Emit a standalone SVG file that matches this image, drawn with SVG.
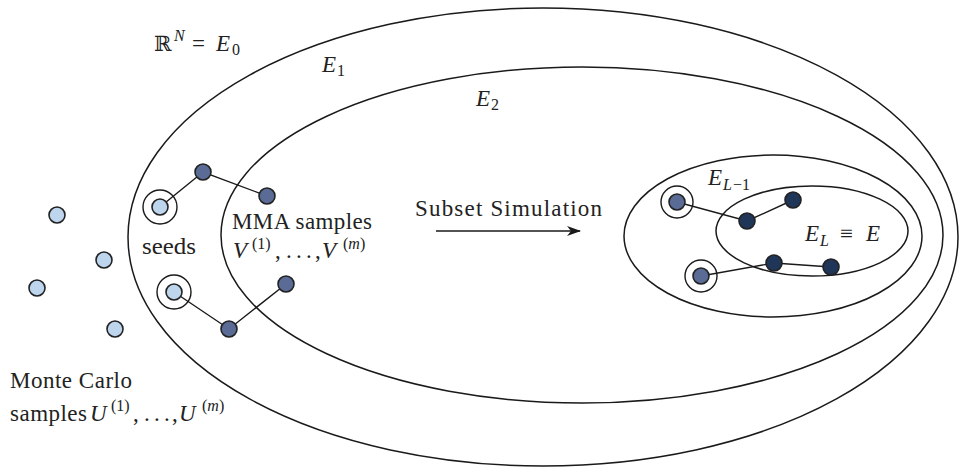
<svg xmlns="http://www.w3.org/2000/svg" width="959" height="468" viewBox="0 0 959 468">
<defs>
<style>
.set{fill:none;stroke:#1a1a1a;stroke-width:1.5}
.ln{stroke:#1a1a1a;stroke-width:1.4;fill:none}
.mc{fill:#bdd6ee;stroke:#222;stroke-width:1.6}
.mm{fill:#5a6b96;stroke:#222;stroke-width:1.6}
.nv{fill:#1f3659;stroke:#222;stroke-width:1.6}
.ring{fill:none;stroke:#1a1a1a;stroke-width:1.4}
.it{font-style:italic}
.sub{font-size:16px}
</style>
<marker id="ah" viewBox="0 0 14 10" refX="13" refY="5" markerWidth="14" markerHeight="10" markerUnits="userSpaceOnUse" orient="auto">
<path d="M0,0 L14,5 L0,10 L4,5 Z" fill="#1a1a1a"/>
</marker>
</defs>
<rect width="959" height="468" fill="#fff"/>
<g id="sets">
<ellipse id="E1" class="set" cx="543" cy="237" rx="415" ry="229"/>
<ellipse id="E2" class="set" cx="582" cy="235" rx="361" ry="168"/>
<ellipse id="ELm1" class="set" cx="773" cy="236" rx="149" ry="81"/>
<ellipse id="EL" class="set" cx="812" cy="231" rx="96" ry="45"/>
</g>
<g id="connectors">
<polyline class="ln" points="160,207 203,172 267,196"/>
<polyline class="ln" points="174,292 229,329 286,284"/>
<polyline class="ln" points="677,202 747,221 793,200"/>
<polyline class="ln" points="701,276 774,263 831,267"/>
<line id="arrow" class="ln" x1="436" y1="231" x2="580" y2="231" marker-end="url(#ah)"/>
</g>
<g id="mc-samples">
<circle class="mc" cx="57" cy="215" r="8"/>
<circle class="mc" cx="104" cy="260" r="8"/>
<circle class="mc" cx="37" cy="288" r="8"/>
<circle class="mc" cx="115" cy="329" r="8"/>
</g>
<g id="seed1"><circle class="ring" cx="160" cy="207" r="17"/><circle class="mc" cx="160" cy="207" r="8"/></g>
<g id="seed2"><circle class="ring" cx="174" cy="292" r="17"/><circle class="mc" cx="174" cy="292" r="8"/></g>
<g id="mma-nodes">
<circle class="mm" cx="203" cy="172" r="8"/>
<circle class="mm" cx="267" cy="196" r="8"/>
<circle class="mm" cx="229" cy="329" r="8"/>
<circle class="mm" cx="286" cy="284" r="8"/>
</g>
<g id="seed3"><circle class="ring" cx="677" cy="202" r="16"/><circle class="mm" cx="677" cy="202" r="8"/></g>
<g id="seed4"><circle class="ring" cx="701" cy="276" r="16"/><circle class="mm" cx="701" cy="276" r="8"/></g>
<g id="final-nodes">
<circle class="nv" cx="747" cy="221" r="8"/>
<circle class="nv" cx="793" cy="200" r="8"/>
<circle class="nv" cx="774" cy="263" r="8"/>
<circle class="nv" cx="831" cy="267" r="8"/>
</g>
<g id="labels" font-family="Liberation Serif, DejaVu Serif, serif" font-size="23" fill="#222">
<text x="154" y="51"><tspan font-family="DejaVu Serif, serif" font-size="21">ℝ</tspan><tspan class="it sub" x="174" y="41">N</tspan><tspan x="192" y="51">=</tspan><tspan class="it" x="216" y="51">E</tspan><tspan class="sub" x="232" y="55">0</tspan></text>
<text x="322" y="72"><tspan class="it">E</tspan><tspan class="sub" x="337" y="76">1</tspan></text>
<text x="476" y="106"><tspan class="it">E</tspan><tspan class="sub" x="491" y="110">2</tspan></text>
<text x="142" y="254" textLength="54" lengthAdjust="spacingAndGlyphs">seeds</text>
<text x="232" y="229" textLength="140" lengthAdjust="spacing">MMA samples</text>
<text x="233" y="258"><tspan class="it">V</tspan><tspan class="sub" x="252" y="249">(1)</tspan><tspan x="275" y="258">,</tspan><tspan x="286" y="258">.</tspan><tspan x="296" y="258">.</tspan><tspan x="306" y="258">.</tspan><tspan x="315" y="258">,</tspan><tspan class="it" x="322" y="258">V</tspan><tspan class="sub" x="343" y="249">(<tspan class="it">m</tspan>)</tspan></text>
<text x="415" y="216" textLength="187" lengthAdjust="spacing">Subset Simulation</text>
<text x="708" y="185"><tspan class="it">E</tspan><tspan class="sub it" x="723" y="190">L</tspan><tspan class="sub" x="733" y="190">−1</tspan></text>
<text x="805" y="241"><tspan class="it">E</tspan><tspan class="sub it" x="820" y="246">L</tspan><tspan x="840" y="241">≡</tspan><tspan class="it" x="866" y="241">E</tspan></text>
<text x="10" y="388" textLength="122" lengthAdjust="spacing">Monte Carlo</text>
<text x="10" y="421"><tspan textLength="77" lengthAdjust="spacing">samples</tspan><tspan class="it" x="90" y="421">U</tspan><tspan class="sub" x="111" y="411">(1)</tspan><tspan x="133" y="421">,</tspan><tspan x="144" y="421">.</tspan><tspan x="154" y="421">.</tspan><tspan x="164" y="421">.</tspan><tspan x="172" y="421">,</tspan><tspan class="it" x="179" y="421">U</tspan><tspan class="sub" x="202" y="411">(<tspan class="it">m</tspan>)</tspan></text>
</g>
</svg>
